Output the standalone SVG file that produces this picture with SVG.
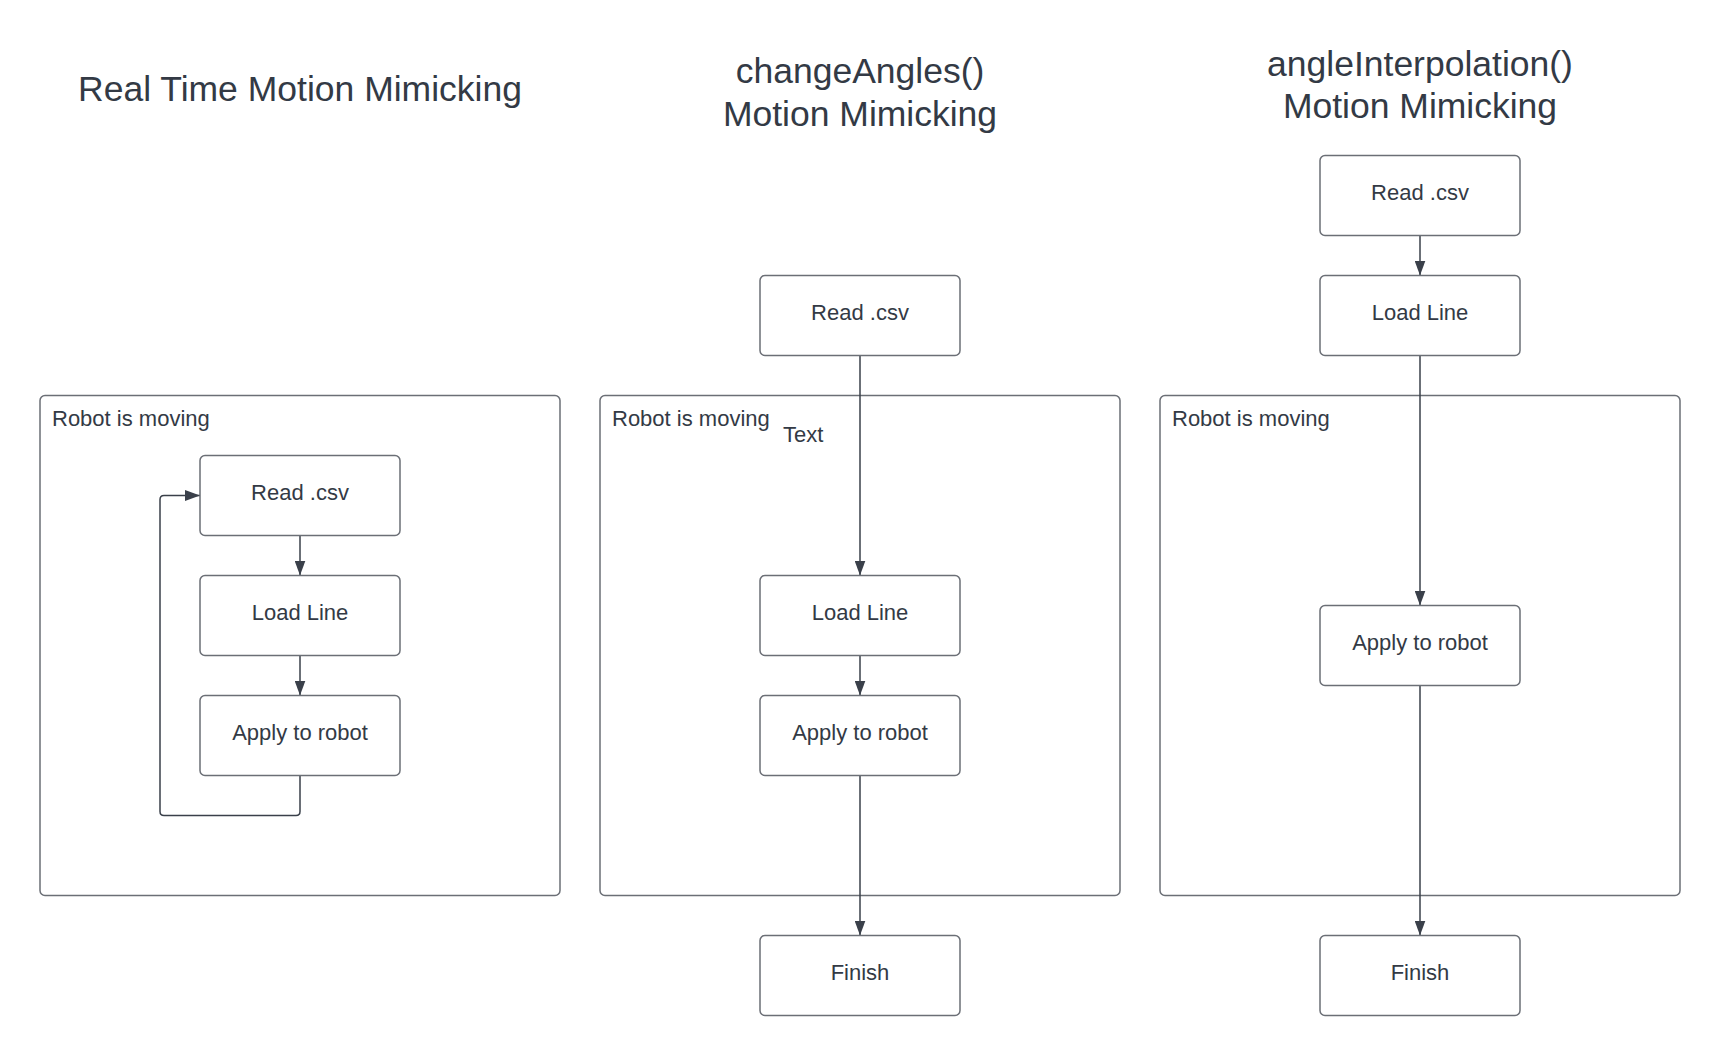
<svg xmlns="http://www.w3.org/2000/svg" width="1720" height="1055" viewBox="0 0 1720 1055">
<style>
.title{font-family:"Liberation Sans",Arial,sans-serif;font-size:35.5px;fill:#333a45;text-anchor:middle}
.lbl{font-family:"Liberation Sans",Arial,sans-serif;font-size:22px;fill:#333a45}
.ntxt{font-family:"Liberation Sans",Arial,sans-serif;font-size:22px;fill:#333a45;text-anchor:middle;dominant-baseline:central}
.box{fill:#ffffff;stroke:#6b6f76;stroke-width:1.5}
.cont{fill:none;stroke:#6b6f76;stroke-width:1.5}
.conn{fill:none;stroke:#3a404a;stroke-width:1.5}
</style>
<defs>
<marker id="arr" viewBox="0 0 15 11" refX="15" refY="5.5" markerWidth="15" markerHeight="11" markerUnits="userSpaceOnUse" orient="auto">
<path d="M0,0 L15,5.5 L0,11 Z" fill="#3a404a"/>
</marker>
</defs>
<rect width="1720" height="1055" fill="#ffffff"/>

<g id="titles">
<text class="title" x="300" y="101">Real Time Motion Mimicking</text>
<text class="title" x="860" y="83">changeAngles()</text>
<text class="title" x="860" y="126">Motion Mimicking</text>
<text class="title" x="1420" y="76">angleInterpolation()</text>
<text class="title" x="1420" y="118">Motion Mimicking</text>
</g>

<g id="container1">
<rect class="cont" x="40" y="395.5" width="520" height="500" rx="5"/>
<text class="lbl" x="52" y="426">Robot is moving</text>
</g>
<g id="container2">
<rect class="cont" x="600" y="395.5" width="520" height="500" rx="5"/>
<text class="lbl" x="612" y="426">Robot is moving</text>
<text class="lbl" x="783" y="442">Text</text>
</g>
<g id="container3">
<rect class="cont" x="1160" y="395.5" width="520" height="500" rx="5"/>
<text class="lbl" x="1172" y="426">Robot is moving</text>
</g>

<g id="connectors">
<path class="conn" d="M300,535.5 L300,575.5" marker-end="url(#arr)"/>
<path class="conn" d="M300,655.5 L300,695.5" marker-end="url(#arr)"/>
<path class="conn" d="M300,775.5 L300,811.5 Q300,815.5 296,815.5 L164,815.5 Q160,815.5 160,811.5 L160,499.5 Q160,495.5 164,495.5 L200,495.5" marker-end="url(#arr)"/>
<path class="conn" d="M860,355.5 L860,575.5" marker-end="url(#arr)"/>
<path class="conn" d="M860,655.5 L860,695.5" marker-end="url(#arr)"/>
<path class="conn" d="M860,775.5 L860,935.5" marker-end="url(#arr)"/>
<path class="conn" d="M1420,235.5 L1420,275.5" marker-end="url(#arr)"/>
<path class="conn" d="M1420,355.5 L1420,605.5" marker-end="url(#arr)"/>
<path class="conn" d="M1420,685.5 L1420,935.5" marker-end="url(#arr)"/>
</g>

<g id="c1-read"><rect class="box" x="200" y="455.5" width="200" height="80" rx="5"/><text class="ntxt" x="300" y="492.5">Read .csv</text></g>
<g id="c1-load"><rect class="box" x="200" y="575.5" width="200" height="80" rx="5"/><text class="ntxt" x="300" y="612.5">Load Line</text></g>
<g id="c1-apply"><rect class="box" x="200" y="695.5" width="200" height="80" rx="5"/><text class="ntxt" x="300" y="732.5">Apply to robot</text></g>

<g id="c2-read"><rect class="box" x="760" y="275.5" width="200" height="80" rx="5"/><text class="ntxt" x="860" y="312.5">Read .csv</text></g>
<g id="c2-load"><rect class="box" x="760" y="575.5" width="200" height="80" rx="5"/><text class="ntxt" x="860" y="612.5">Load Line</text></g>
<g id="c2-apply"><rect class="box" x="760" y="695.5" width="200" height="80" rx="5"/><text class="ntxt" x="860" y="732.5">Apply to robot</text></g>
<g id="c2-finish"><rect class="box" x="760" y="935.5" width="200" height="80" rx="5"/><text class="ntxt" x="860" y="972.5">Finish</text></g>

<g id="c3-read"><rect class="box" x="1320" y="155.5" width="200" height="80" rx="5"/><text class="ntxt" x="1420" y="192.5">Read .csv</text></g>
<g id="c3-load"><rect class="box" x="1320" y="275.5" width="200" height="80" rx="5"/><text class="ntxt" x="1420" y="312.5">Load Line</text></g>
<g id="c3-apply"><rect class="box" x="1320" y="605.5" width="200" height="80" rx="5"/><text class="ntxt" x="1420" y="642.5">Apply to robot</text></g>
<g id="c3-finish"><rect class="box" x="1320" y="935.5" width="200" height="80" rx="5"/><text class="ntxt" x="1420" y="972.5">Finish</text></g>
</svg>
